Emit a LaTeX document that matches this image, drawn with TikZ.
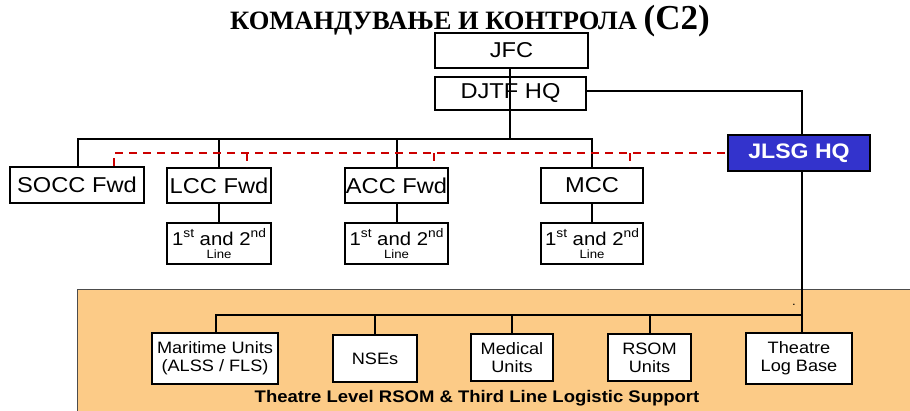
\documentclass[tikz,border=0pt]{standalone}
\usepackage{fontspec}
\setmainfont{Liberation Sans}[FakeStretch=1.1]
\newfontfamily\titlefont{Liberation Serif}
\usetikzlibrary{calc}
\definecolor{orangebg}{HTML}{FCCB87}
\definecolor{jlsgblue}{HTML}{3333CC}
\definecolor{dashred}{HTML}{CC0000}
\tikzset{
  box/.style={draw=black, line width=2pt, fill=white, inner sep=0pt, align=center},
  big/.style={font=\fontsize{21.5}{23}\selectfont},
  small/.style={font=\fontsize{16.5}{18}\selectfont},
  conn/.style={draw=black, line width=2pt},
  reddash/.style={draw=dashred, line width=2pt, dash pattern=on 8pt off 6pt},
}
\newcommand{\supx}[1]{\raisebox{0.42em}{\fontsize{12.5}{13}\selectfont #1}}
\newcommand{\firstsecond}{{\fontsize{18.5}{19}\selectfont 1\supx{st} and 2\supx{nd}}\\[1pt]{\fontsize{12}{13}\selectfont Line}}
\begin{document}
\begin{tikzpicture}[x=1pt,y=-1pt]
\useasboundingbox (0,0) rectangle (910,410);
% orange area
\fill[orangebg, draw=black!70, line width=1pt] (77,289) rectangle (915,415);
% title
\node[inner sep=0pt] (title) at (470,21) {\titlefont\bfseries{\fontsize{26.5}{28}\selectfont КОМАНДУВАЊЕ И КОНТРОЛА }{\fontsize{35}{36}\selectfont (C2)}};
% top boxes
\node[box,big,minimum width=153pt,minimum height=35pt] (jfc) at (511.5,50.5) {JFC};
\node[box,big,minimum width=151pt,minimum height=33pt] (dj) at (510.5,93.5) {DJTF HQ};
\node[box,big,minimum width=134pt,minimum height=36pt] (socc) at (77,185) {SOCC Fwd};
\node[box,big,minimum width=104pt,minimum height=35pt] (lcc) at (219,185.5) {LCC Fwd};
\node[box,big,minimum width=103pt,minimum height=35pt] (acc) at (396.5,185.5) {ACC Fwd};
\node[box,big,minimum width=102pt,minimum height=35pt] (mcc) at (592,185.5) {MCC};
\node[box,minimum width=104pt,minimum height=41pt] (lcc1) at (219,243.5) {\firstsecond};
\node[box,minimum width=103pt,minimum height=41pt] (acc1) at (396.5,243.5) {\firstsecond};
\node[box,minimum width=102pt,minimum height=41pt] (mcc1) at (592,243.5) {\firstsecond};
\node[box,fill=jlsgblue,text=white,minimum width=142pt,minimum height=36pt,font=\fontsize{21}{23}\selectfont\bfseries] (jlsg) at (799,153) {JLSG HQ};
% bottom boxes
\node[box,small,minimum width=126pt,minimum height=51pt] (mar) at (215,358.5) {Maritime Units\\(ALSS / FLS)};
\node[box,small,minimum width=84pt,minimum height=47pt] (nse) at (375,358.5) {NSEs};
\node[box,small,minimum width=82pt,minimum height=47pt] (med) at (512,357.5) {Medical\\Units};
\node[box,small,minimum width=83pt,minimum height=47pt] (rsom) at (649.5,357.5) {RSOM\\Units};
\node[box,small,minimum width=106pt,minimum height=51pt] (tlb) at (799,358.5) {Theatre\\Log Base};
\node (dot) at (794,305) {\fontsize{12}{14}\selectfont .};
\node (bottomtext) at (477,398) {\fontsize{16.8}{18}\selectfont\bfseries Theatre Level RSOM \& Third Line Logistic Support};
% connectors
\coordinate (busL) at (78,139);
\coordinate (busM) at (510,139);
\coordinate (rL) at (114,153);
\coordinate (jx) at (802,91);
\coordinate (bb) at (216,315);
\draw[conn] (jfc.south -| busM) -- (dj.south -| busM);
\draw[conn] (dj.south -| busM) -- (busM);
\draw[conn] (socc.north -| busL) -- (busL) -- (busL -| mcc.north) -- (mcc.north);
\draw[conn] (busL -| lcc.north) -- (lcc.north);
\draw[conn] (busL -| acc.north) -- (acc.north);
\draw[conn] (lcc.south) -- (lcc1.north);
\draw[conn] (acc.south) -- (acc1.north);
\draw[conn] (mcc.south) -- (mcc1.north);
\draw[conn] (dj.east |- jx) -- (jx) -- (jlsg.north -| jx);
\draw[conn] (jlsg.south -| jx) -- (tlb.north -| jx);
\draw[conn] (mar.north -| bb) -- (bb) -- (bb -| jx);
\draw[conn] (bb -| nse.north) -- (nse.north);
\draw[conn] (bb -| med.north) -- (med.north);
\draw[conn] (bb -| rsom.north) -- (rsom.north);
% red dashed
\draw[reddash] (socc.north -| rL) -- (rL) -- (rL -| jlsg.west);
\draw[reddash] (rL -| 247,0) -- (lcc.north -| 247,0);
\draw[reddash] (rL -| 434,0) -- (acc.north -| 434,0);
\draw[reddash] (rL -| 630,0) -- (mcc.north -| 630,0);
\end{tikzpicture}
\end{document}
